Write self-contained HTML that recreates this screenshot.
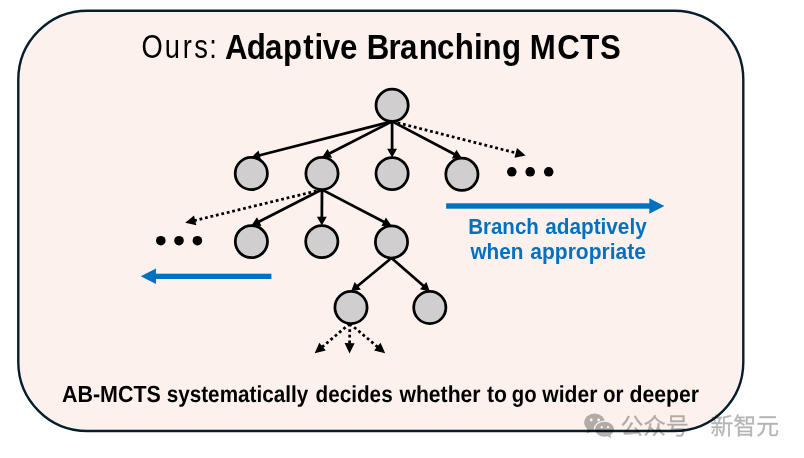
<!DOCTYPE html><html><head><meta charset="utf-8"><title>AB-MCTS</title><style>html,body{margin:0;padding:0;background:#fff}svg{display:block}svg{will-change:transform}text{font-family:"Liberation Sans","Noto Sans CJK SC",sans-serif}</style></head><body>
<svg width="804" height="458" viewBox="0 0 804 458">
<rect width="804" height="458" fill="#fff"/>
<rect x="18.3" y="10.7" width="725.0" height="420.3" rx="69" ry="69" fill="#fdf1ed" stroke="#061d2c" stroke-width="2.4"/>
<line x1="392.10" y1="121.40" x2="258.86" y2="155.47" stroke="#000" stroke-width="2.75"/>
<polygon points="251.30,157.40 258.61,150.47 261.04,159.97" fill="#000"/>
<line x1="392.10" y1="121.40" x2="328.94" y2="153.84" stroke="#000" stroke-width="2.75"/>
<polygon points="322.00,157.40 327.59,149.02 332.07,157.74" fill="#000"/>
<line x1="392.10" y1="121.40" x2="392.10" y2="149.70" stroke="#000" stroke-width="2.75"/>
<polygon points="392.10,157.50 387.20,148.70 397.00,148.70" fill="#000"/>
<line x1="392.10" y1="121.40" x2="455.00" y2="154.56" stroke="#000" stroke-width="2.75"/>
<polygon points="461.90,158.20 451.83,158.43 456.40,149.76" fill="#000"/>
<line x1="392.10" y1="121.40" x2="516.69" y2="153.11" stroke="#000" stroke-width="2.75" stroke-dasharray="2.8 2.8"/>
<polygon points="525.70,155.40 514.49,157.71 516.95,148.01" fill="#000"/>
<line x1="322.00" y1="189.60" x2="258.35" y2="221.96" stroke="#000" stroke-width="2.75"/>
<polygon points="251.40,225.50 257.02,217.14 261.47,225.88" fill="#000"/>
<line x1="322.00" y1="189.60" x2="321.84" y2="217.70" stroke="#000" stroke-width="2.75"/>
<polygon points="321.80,225.50 316.95,216.67 326.75,216.73" fill="#000"/>
<line x1="322.00" y1="189.60" x2="384.58" y2="222.20" stroke="#000" stroke-width="2.75"/>
<polygon points="391.50,225.80 381.43,226.08 385.96,217.39" fill="#000"/>
<line x1="322.00" y1="189.60" x2="194.24" y2="220.61" stroke="#000" stroke-width="2.75" stroke-dasharray="2.8 2.8"/>
<polygon points="185.20,222.80 194.03,215.51 196.39,225.23" fill="#000"/>
<line x1="391.50" y1="258.00" x2="357.02" y2="286.44" stroke="#000" stroke-width="2.75"/>
<polygon points="351.00,291.40 354.67,282.02 360.91,289.58" fill="#000"/>
<line x1="391.50" y1="258.00" x2="423.92" y2="286.27" stroke="#000" stroke-width="2.75"/>
<polygon points="429.80,291.40 419.95,289.31 426.39,281.92" fill="#000"/>
<line x1="349.80" y1="323.60" x2="321.80" y2="347.29" stroke="#000" stroke-width="2.75" stroke-dasharray="2.8 2.8"/>
<polygon points="314.70,353.30 319.33,342.83 325.79,350.46" fill="#000"/>
<line x1="349.80" y1="323.60" x2="349.59" y2="344.10" stroke="#000" stroke-width="2.75" stroke-dasharray="2.8 2.8"/>
<polygon points="349.50,353.40 344.60,343.05 354.60,343.15" fill="#000"/>
<line x1="349.80" y1="323.60" x2="378.08" y2="347.32" stroke="#000" stroke-width="2.75" stroke-dasharray="2.8 2.8"/>
<polygon points="385.20,353.30 374.10,350.51 380.52,342.85" fill="#000"/>
<circle cx="392.1" cy="105.3" r="16.1" fill="#d0cece" stroke="#000" stroke-width="2.75"/>
<circle cx="251.3" cy="173.5" r="16.1" fill="#d0cece" stroke="#000" stroke-width="2.75"/>
<circle cx="322" cy="173.5" r="16.1" fill="#d0cece" stroke="#000" stroke-width="2.75"/>
<circle cx="392.1" cy="173.6" r="16.1" fill="#d0cece" stroke="#000" stroke-width="2.75"/>
<circle cx="461.9" cy="174.3" r="16.1" fill="#d0cece" stroke="#000" stroke-width="2.75"/>
<circle cx="251.4" cy="241.6" r="16.1" fill="#d0cece" stroke="#000" stroke-width="2.75"/>
<circle cx="321.8" cy="241.6" r="16.1" fill="#d0cece" stroke="#000" stroke-width="2.75"/>
<circle cx="391.5" cy="241.9" r="16.1" fill="#d0cece" stroke="#000" stroke-width="2.75"/>
<circle cx="351" cy="307.5" r="16.1" fill="#d0cece" stroke="#000" stroke-width="2.75"/>
<circle cx="429.8" cy="307.5" r="16.1" fill="#d0cece" stroke="#000" stroke-width="2.75"/>
<circle cx="511.8" cy="171.8" r="4.8" fill="#000"/>
<circle cx="530.2" cy="171.8" r="4.8" fill="#000"/>
<circle cx="548.7" cy="171.8" r="4.8" fill="#000"/>
<circle cx="160.8" cy="240.7" r="4.8" fill="#000"/>
<circle cx="179" cy="240.7" r="4.8" fill="#000"/>
<circle cx="197.4" cy="240.7" r="4.8" fill="#000"/>
<rect x="446.1" y="203.3" width="204.89999999999998" height="5.4" fill="#0070c0"/>
<polygon points="664.4,206 649.3,198.2 649.3,213.8" fill="#0070c0"/>
<rect x="154" y="273.7" width="117.39999999999998" height="5.3" fill="#0070c0"/>
<polygon points="140.8,276.3 156,268.6 156,284" fill="#0070c0"/>
<text x="172.48 200.95 222.89 236.87 255.13" y="58.3" font-size="33.3" font-weight="normal" fill="#000" transform="scale(0.82,1)">Ours:</text>
<text x="249.94 274.11 294.45 314.36 336.94 349.53 358.53 377.77" y="59" font-size="34.7" font-weight="bold" fill="#000" transform="scale(0.9,1)">Adaptive</text>
<text x="407.43 431.64 444.45 465.17 485.68 505.21 526.64 536.22 557.85" y="59" font-size="34.7" font-weight="bold" fill="#000" transform="scale(0.9,1)">Branching</text>
<text x="588.55 619.12 644.73 666.61" y="59" font-size="34.7" font-weight="bold" fill="#000" transform="scale(0.9,1)">MCTS</text>
<text x="468.13" y="233.5" font-size="22.4" font-weight="bold" fill="#0070c0" textLength="70.75" lengthAdjust="spacingAndGlyphs">Branch</text>
<text x="545.19" y="233.5" font-size="22.4" font-weight="bold" fill="#0070c0" textLength="101.52" lengthAdjust="spacingAndGlyphs">adaptively</text>
<text x="470.46" y="259.1" font-size="22.4" font-weight="bold" fill="#0070c0" textLength="53.03" lengthAdjust="spacingAndGlyphs">when</text>
<text x="530.28" y="259.1" font-size="22.4" font-weight="bold" fill="#0070c0" textLength="115.74" lengthAdjust="spacingAndGlyphs">appropriate</text>
<g transform="rotate(0.03 380 402)">
<text x="61.97" y="402" font-size="23.3" font-weight="bold" fill="#000" textLength="98.87" lengthAdjust="spacingAndGlyphs">AB-MCTS</text>
<text x="166.67" y="402" font-size="23.3" font-weight="bold" fill="#000" textLength="141.64" lengthAdjust="spacingAndGlyphs">systematically</text>
<text x="315.55" y="402" font-size="23.3" font-weight="bold" fill="#000" textLength="77.10" lengthAdjust="spacingAndGlyphs">decides</text>
<text x="399.46" y="402" font-size="23.3" font-weight="bold" fill="#000" textLength="81.16" lengthAdjust="spacingAndGlyphs">whether</text>
<text x="486.94" y="402" font-size="23.3" font-weight="bold" fill="#000" textLength="19.99" lengthAdjust="spacingAndGlyphs">to</text>
<text x="511.77" y="402" font-size="23.3" font-weight="bold" fill="#000" textLength="24.83" lengthAdjust="spacingAndGlyphs">go</text>
<text x="542.36" y="402" font-size="23.3" font-weight="bold" fill="#000" textLength="55.06" lengthAdjust="spacingAndGlyphs">wider</text>
<text x="603.10" y="402" font-size="23.3" font-weight="bold" fill="#000" textLength="20.51" lengthAdjust="spacingAndGlyphs">or</text>
<text x="629.53" y="402" font-size="23.3" font-weight="bold" fill="#000" textLength="69.59" lengthAdjust="spacingAndGlyphs">deeper</text>
</g>
<defs><mask id="m1" maskUnits="userSpaceOnUse" x="580" y="408" width="40" height="36"><rect x="580" y="408" width="40" height="36" fill="#fff"/><ellipse cx="604.5" cy="429.2" rx="10.7" ry="8.6" fill="#000"/><circle cx="591.2" cy="420" r="1.45" fill="#000"/><circle cx="598.6" cy="420" r="1.45" fill="#000"/></mask><mask id="m2" maskUnits="userSpaceOnUse" x="580" y="408" width="40" height="36"><rect x="580" y="408" width="40" height="36" fill="#fff"/><circle cx="601.8" cy="427.1" r="1.2" fill="#000"/><circle cx="608" cy="427.1" r="1.2" fill="#000"/></mask></defs>
<g opacity="0.29" fill="#000">
<g mask="url(#m1)"><ellipse cx="594.6" cy="422.6" rx="10.5" ry="9"/><path d="M587.2 428.6 L586.6 433.6 L592.5 431z"/></g>
<g mask="url(#m2)"><ellipse cx="604.5" cy="429.2" rx="9.6" ry="7.5"/><path d="M607.5 436 L611 438.4 L610.6 434.5z"/></g>
<text x="620.4" y="433.7" font-size="22.8" font-weight="normal" fill="#000" text-anchor="start" stroke="#000" stroke-width="0.35">公众号</text>
<text x="710.6" y="433.7" font-size="22.8" font-weight="normal" fill="#000" text-anchor="start" stroke="#000" stroke-width="0.35">新智元</text>
</g>
</svg></body></html>
